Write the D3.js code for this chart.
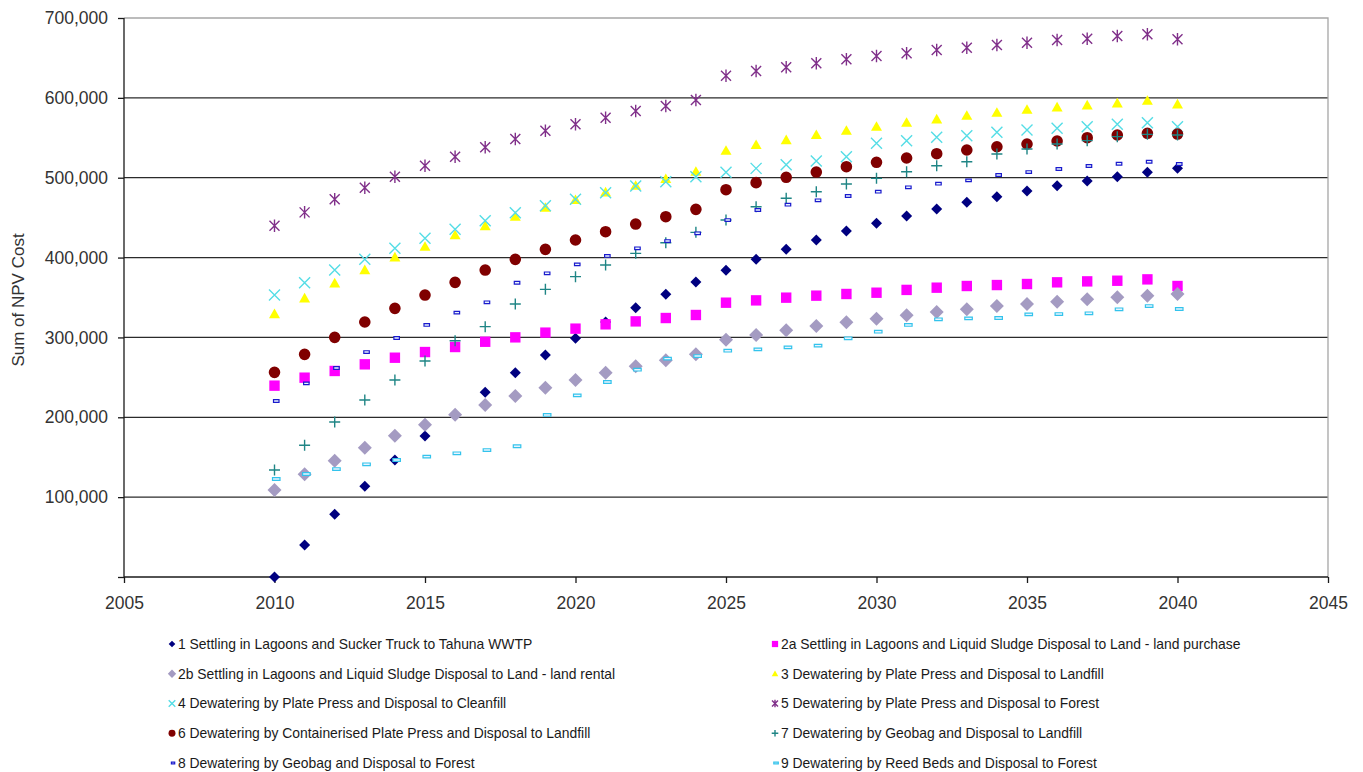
<!DOCTYPE html>
<html>
<head>
<meta charset="utf-8">
<script src="https://cdn.jsdelivr.net/npm/d3@7"></script>
<style>
body { margin: 0; background: #fff; }
svg { display: block; font-family: "Liberation Sans", Arial, sans-serif; }
</style>
</head>
<body>
<svg id="viz"></svg>
<script>
var width = 1363;
var height = 772;
var margin = {top: 18, right: 35, bottom: 195, left: 124};

var years = [2010, 2011, 2012, 2013, 2014, 2015, 2016, 2017, 2018, 2019, 2020,
	2021, 2022, 2023, 2024, 2025, 2026, 2027, 2028, 2029, 2030,
	2031, 2032, 2033, 2034, 2035, 2036, 2037, 2038, 2039, 2040];

var xTicks = [2005, 2010, 2015, 2020, 2025, 2030, 2035, 2040, 2045];
var yTicks = [0, 100000, 200000, 300000, 400000, 500000, 600000, 700000];

// series values
var s1 = [0, 40000, 78500, 113500, 146500, 176600, 203000, 231300, 255800, 278000, 298900,
	319300, 337200, 354000, 369400, 384000, 397800, 410300, 422000, 433300, 442900,
	452000, 460800, 469200, 476200, 483300, 490000, 495900, 501300, 506700, 511700];
var s2a = [239600, 249600, 258000, 266300, 274600, 281700, 288000, 294600, 300100, 306000, 311000,
	316400, 320100, 324300, 328100, 343500, 346400, 349800, 352300, 354400, 356000,
	359500, 362300, 364400, 365600, 366900, 369000, 370200, 371000, 372700, 364400];
var s2b = [108900, 128600, 145700, 162000, 177000, 190800, 203300, 215400, 226700, 237100, 246700,
	255900, 263800, 271300, 278800, 297200, 303000, 308900, 314300, 318900, 323500,
	327700, 331800, 335200, 339300, 341800, 344800, 347700, 350200, 352300, 354400];
var s3 = [329300, 349000, 367800, 384400, 400300, 413600, 428000, 439500, 451200, 462500, 472100,
	481700, 490000, 498400, 507500, 533800, 541000, 547200, 553500, 558900, 563900,
	568900, 573100, 577700, 581400, 585200, 588100, 590700, 593200, 596400, 591900];
var s4 = [353100, 368500, 384400, 397800, 411600, 424100, 435400, 446200, 456200, 465000, 472900,
	481200, 489600, 495000, 501300, 506700, 511700, 516300, 520900, 526300, 543100,
	546400, 550600, 552600, 556800, 559700, 561900, 563900, 566900, 568900, 563900];
var s5 = [439900, 456600, 472900, 487500, 501300, 515000, 526300, 538100, 548500, 558900, 566900,
	575100, 583500, 589800, 597300, 627700, 633600, 638200, 643300, 648300, 652400,
	655800, 659900, 662800, 666200, 669100, 672400, 674100, 677500, 679600, 673300];
var s6 = [256300, 278800, 300100, 319300, 336400, 353100, 369000, 384400, 397800, 410300, 422000,
	432400, 442000, 451200, 460400, 485000, 493800, 500500, 507100, 513800, 519300,
	524700, 530100, 534700, 538800, 542200, 546000, 550100, 553500, 555600, 554700];
var s7 = [134000, 164900, 194100, 221600, 246700, 270500, 295900, 313500, 341800, 360200, 376100,
	390700, 405300, 418600, 431600, 447000, 463700, 474200, 482500, 492100, 499200,
	507500, 515000, 520000, 529700, 535900, 542200, 546400, 551400, 554300, 553500];
var s8 = [220400, 242500, 261700, 281700, 299300, 315600, 331000, 344000, 368500, 380300, 391500,
	402000, 411600, 420700, 430400, 447000, 459600, 466200, 471700, 477100, 482500,
	488000, 492500, 496700, 503400, 507100, 510900, 514700, 517500, 520000, 517200];
var s9 = [122700, 129000, 135200, 141100, 146500, 150700, 154900, 159000, 163700, 202900, 227500,
	244200, 259600, 273400, 276700, 283400, 285100, 287600, 289700, 298900, 307200,
	315600, 322700, 323900, 324300, 328900, 329300, 330200, 335200, 339300, 335600];

var seriesNames = [
	"1 Settling in Lagoons and Sucker Truck to Tahuna WWTP",
	"2a Settling in Lagoons and Liquid Sludge Disposal to Land - land purchase",
	"2b Settling in Lagoons and Liquid Sludge Disposal to Land - land rental",
	"3 Dewatering by Plate Press and Disposal to Landfill",
	"4 Dewatering by Plate Press and Disposal to Cleanfill",
	"5 Dewatering by Plate Press and Disposal to Forest",
	"6 Dewatering by Containerised Plate Press and Disposal to Landfill",
	"7 Dewatering by Geobag and Disposal to Landfill",
	"8 Dewatering by Geobag and Disposal to Forest",
	"9 Dewatering by Reed Beds and Disposal to Forest"
];
var seriesValues = [s1, s2a, s2b, s3, s4, s5, s6, s7, s8, s9];
var seriesColors = ["#000080", "#FF00FF", "#A49BC2", "#FFFF00", "#55DDE6",
	"#80308A", "#800000", "#1F8585", "#1A1ACC", "#33C3EC"];
var seriesShapes = ["diamond", "square", "bigdiamond", "triangle", "x",
	"asterisk", "circle", "plus", "dash", "longdash"];

var svg = d3.select("#viz")
	.attr("width", width)
	.attr("height", height)

var x = d3.scaleLinear().domain([2005, 2045]).range([margin.left, width - margin.right]);
var y = d3.scaleLinear().domain([0, 700000]).range([height - margin.bottom, margin.top]);

// gridlines
svg.selectAll(".grid")
	.data(yTicks.filter(d => d > 0 && d < 700000))
	.join("line")
	.attr("class", "grid")
	.attr("x1", x(2005)).attr("x2", x(2045))
	.attr("y1", d => y(d)).attr("y2", d => y(d))
	.style("stroke", "#2b2b2b")
	.style("stroke-width", 1.3)

// top and right border (grey)
svg.append("path")
	.attr("d", "M" + x(2005) + "," + y(700000) + "H" + x(2045) + "V" + y(0))
	.style("fill", "none")
	.style("stroke", "#a6a6a6")
	.style("stroke-width", 1.3)

var yAxis = svg.append("g")
	.attr("transform", "translate(" + margin.left + ",0)")
	.call(d3.axisLeft(y).tickValues(yTicks).tickSize(6).tickPadding(10)
		.tickFormat(d => d === 0 ? "" : d3.format(",")(d)))
yAxis.select(".domain").attr("d", "M0," + y(700000) + "V" + y(0))

var xAxis = svg.append("g")
	.attr("transform", "translate(0," + (height - margin.bottom) + ")")
	.call(d3.axisBottom(x).tickValues(xTicks).tickSize(6).tickPadding(14).tickFormat(d3.format("d")))
xAxis.select(".domain").attr("d", "M" + x(2005) + ",0H" + x(2045))

svg.selectAll(".domain, .tick line").style("stroke", "#1a1a1a").style("stroke-width", 1.3)
svg.selectAll(".tick text")
	.style("font-size", "17.5px")
	.style("fill", "#333")
	.style("font-family", "'Liberation Sans', Arial, sans-serif")

svg.append("text")
	.attr("transform", "translate(24,300) rotate(-90)")
	.attr("text-anchor", "middle")
	.style("font-size", "17px")
	.style("fill", "#333")
	.text("Sum of NPV Cost")

function markerPath(shape, k) {
	var r;
	switch (shape) {
		case "diamond":
			r = 5.5 * k;
			return "M0," + (-r) + "L" + r + ",0L0," + r + "L" + (-r) + ",0Z";
		case "bigdiamond":
			r = 7 * k;
			return "M0," + (-r) + "L" + r + ",0L0," + r + "L" + (-r) + ",0Z";
		case "square":
			r = 5.2 * k;
			return "M" + (-r) + "," + (-r) + "H" + r + "V" + r + "H" + (-r) + "Z";
		case "triangle":
			r = 5.5 * k;
			return "M0," + (-r) + "L" + r + "," + (r * 0.75) + "L" + (-r) + "," + (r * 0.75) + "Z";
		case "x":
			r = 5.5 * k;
			return "M" + (-r) + "," + (-r) + "L" + r + "," + r + "M" + r + "," + (-r) + "L" + (-r) + "," + r;
		case "asterisk":
			r = 5 * k;
			return "M" + (-r) + "," + (-r) + "L" + r + "," + r + "M" + r + "," + (-r) + "L" + (-r) + "," + r +
				"M0," + (-r * 1.25) + "V" + (r * 1.25);
		case "circle":
			r = 5.8 * k;
			return "M" + r + ",0A" + r + "," + r + " 0 1,1 " + (-r) + ",0A" + r + "," + r + " 0 1,1 " + r + ",0Z";
		case "plus":
			r = 5.5 * k;
			return "M" + (-r) + ",0H" + r + "M0," + (-r) + "V" + r;
		case "dash":
			return "M" + (-1 * k) + "," + (-1.3 * k) + "h" + (5.5 * k) + "v" + (2.6 * k) + "h" + (-5.5 * k) + "Z";
		case "longdash":
			return "M" + (-2 * k) + "," + (-1.3 * k) + "h" + (7.5 * k) + "v" + (2.6 * k) + "h" + (-7.5 * k) + "Z";
	}
}

function styleMarker(sel, shape, color) {
	var lineShape = shape === "x" || shape === "asterisk" || shape === "plus";
	var outline = shape === "dash" || shape === "longdash";
	sel.style("fill", lineShape ? "none" : (outline ? "#e8f4ff" : color))
		.style("stroke", lineShape || outline ? color : "none")
		.style("stroke-width", lineShape ? 1.4 : 1.2)
}

// data series, drawn in order so later ones sit on top
seriesValues.forEach((vals, i) => {
	var pts = years.map((yr, j) => ({year: yr, value: vals[j]}));
	var g = svg.append("g").attr("class", "series series-" + i);
	g.selectAll("path")
		.data(pts)
		.join("path")
		.attr("transform", d => "translate(" + x(d.year) + "," + y(d.value) + ")")
		.attr("d", markerPath(seriesShapes[i], 1))
		.call(styleMarker, seriesShapes[i], seriesColors[i])
})

// legend, two columns
var legendCols = [172, 775];
var legendRow0 = 644;
var legendRowGap = 29.75;

var legend = svg.selectAll(".legend-item")
	.data(seriesNames)
	.join("g")
	.attr("class", "legend-item")
	.attr("transform", (d, i) => "translate(" + legendCols[i % 2] + "," + (legendRow0 + Math.floor(i / 2) * legendRowGap) + ")")

legend.append("path")
	.attr("d", (d, i) => markerPath(seriesShapes[i], 0.6))
	.each(function(d, i) { d3.select(this).call(styleMarker, seriesShapes[i], seriesColors[i]) })

legend.append("text")
	.attr("x", 6)
	.attr("dy", "0.35em")
	.style("font-size", "13.9px")
	.style("fill", "#1a1a1a")
	.text(d => d)
</script>
</body>
</html>
